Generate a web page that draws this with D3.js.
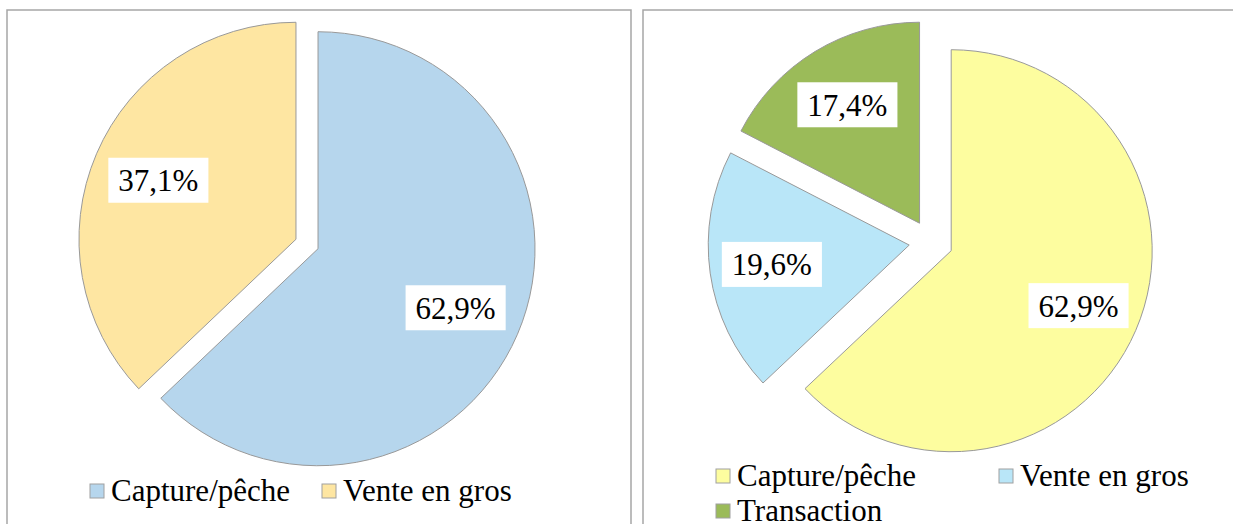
<!DOCTYPE html>
<html>
<head>
<meta charset="utf-8">
<script src="https://cdn.jsdelivr.net/npm/d3@7"></script>
</head>
<body style="margin:0">
<svg id="chart" width="1233" height="524"></svg>
<script>
// values
let leftCategories = ['Capture/pêche', 'Vente en gros'];
let leftValues = [62.9, 37.1];
let leftColors = ['#b6d6ed', '#fee6a2'];

let rightCategories = ['Capture/pêche', 'Vente en gros', 'Transaction'];
let rightValues = [62.9, 19.6, 17.4];
let rightColors = ['#fdfd9f', '#b9e6f8', '#9bbb59'];

let fontName = '"Liberation Serif"';

let svg = d3.select('#chart');
let fmt = (v) => d3.format('.1f')(v).replace('.', ',') + '%';

// panel frames
svg.append('rect')
  .attr('x', 7).attr('y', 10)
  .attr('width', 624).attr('height', 540)
  .attr('fill', 'none')
  .attr('stroke', '#a6a6a6')
  .attr('stroke-width', 1.5);

svg.append('rect')
  .attr('x', 643).attr('y', 10)
  .attr('width', 640).attr('height', 540)
  .attr('fill', 'none')
  .attr('stroke', '#a6a6a6')
  .attr('stroke-width', 1.5);

let drawPie = function (cx, cy, radius, explode, values, colors) {
  let pie = d3.pie().sort(null).value((d) => d);
  let arcs = pie(values);

  let arc = d3.arc().innerRadius(0).outerRadius(radius);
  let shift = d3.arc().innerRadius(explode).outerRadius(explode);
  let labelArc = d3.arc().innerRadius(radius * 0.69).outerRadius(radius * 0.69);

  let g = svg.append('g')
    .attr('transform', 'translate(' + cx + ',' + cy + ')');

  let slices = g.selectAll('.slice')
    .data(arcs)
    .enter()
    .append('g')
    .attr('class', 'slice')
    .attr('transform', (d) => 'translate(' + shift.centroid(d) + ')');

  slices.append('path')
    .attr('d', arc)
    .attr('fill', (d, i) => colors[i])
    .attr('stroke', '#999999')
    .attr('stroke-width', 1);

  // white boxed labels
  slices.each(function (d) {
    let c = labelArc.centroid(d);
    let lg = d3.select(this).append('g')
      .attr('transform', 'translate(' + c + ')');
    let box = lg.append('rect').attr('fill', '#ffffff');
    let t = lg.append('text')
      .attr('text-anchor', 'middle')
      .attr('dy', '0.35em')
      .attr('font-size', 31)
      .style('font-family', fontName)
      .attr('fill', '#000000')
      .text(fmt(d.data));
    let bb = t.node().getBBox();
    box.attr('x', -bb.width / 2 - 10)
      .attr('y', -22.5)
      .attr('width', bb.width + 20)
      .attr('height', 45);
  });
};

let drawLegend = function (items) {
  let lg = svg.append('g');
  let it = lg.selectAll('.item')
    .data(items)
    .enter()
    .append('g')
    .attr('class', 'item')
    .attr('transform', (d) => 'translate(' + d.x + ',' + d.y + ')');

  it.append('rect')
    .attr('x', 0).attr('y', -17)
    .attr('width', 14).attr('height', 14)
    .attr('fill', (d) => d.color)
    .attr('stroke', '#a0a0a0')
    .attr('stroke-width', 1);

  it.append('text')
    .attr('x', 21)
    .attr('font-size', 31)
    .style('font-family', fontName)
    .attr('fill', '#000000')
    .text((d) => d.name);
};

drawPie(307, 244, 217, 12, leftValues, leftColors);
drawPie(931, 242, 201, 22, rightValues, rightColors);

drawLegend([
  {name: leftCategories[0], color: leftColors[0], x: 90, y: 501},
  {name: leftCategories[1], color: leftColors[1], x: 322, y: 501}
]);

drawLegend([
  {name: rightCategories[0], color: rightColors[0], x: 716, y: 486},
  {name: rightCategories[1], color: rightColors[1], x: 999, y: 486},
  {name: rightCategories[2], color: rightColors[2], x: 716, y: 521}
]);
</script>
</body>
</html>
